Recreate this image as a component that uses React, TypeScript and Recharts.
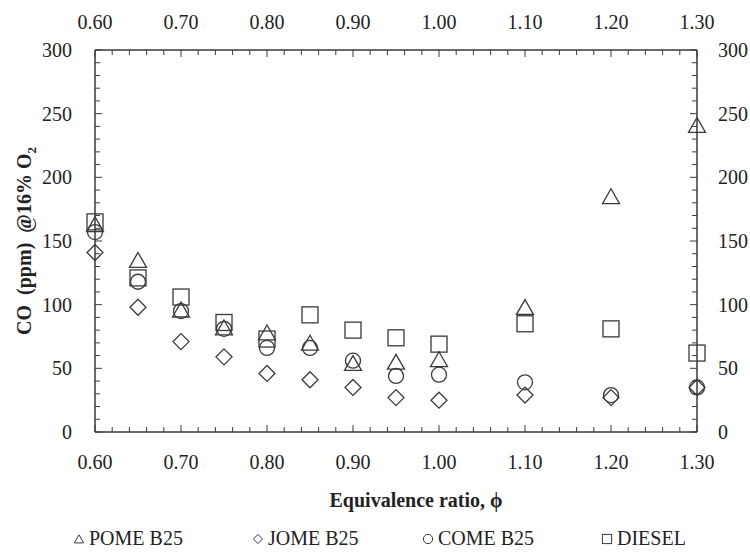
import { ScatterChart, Scatter, XAxis, YAxis, Label } from "recharts";

// equivalence ratio and CO readings (ppm @ 16% O2)
const phi = [0.6, 0.65, 0.7, 0.75, 0.8, 0.85, 0.9, 0.95, 1.0, 1.1, 1.2, 1.3];
const pomeB25 = [163, 135, 96, 82, 78, 70, 54, 55, 57, 98, 185, 241];
const jomeB25 = [141, 98, 71, 59, 46, 41, 35, 27, 25, 29, 27, 35];
const comeB25 = [157, 118, 95, 81, 66, 66, 56, 44, 45, 39, 29, 35];
const diesel = [165, 121, 106, 86, 73, 92, 80, 74, 69, 85, 81, 62];

const xTicks = [0.6, 0.7, 0.8, 0.9, 1.0, 1.1, 1.2, 1.3];
const yTicks = [0, 50, 100, 150, 200, 250, 300];

const xMinor = Array.from({ length: 36 }, (_, i) => Math.round((0.6 + i * 0.02) * 100) / 100);
const yMinor = Array.from({ length: 31 }, (_, i) => i * 10);

const toPoints = (vals: number[]) => phi.map((x, i) => ({ x, y: vals[i] }));

const FONT = "'Liberation Serif', 'Times New Roman', serif";
const INK = "#3a3a3a";
const TXT = "#222";

const isMajorX = (v: number) => xTicks.some((t) => Math.abs(t - v) < 1e-6);
const isMajorY = (v: number) => yTicks.includes(v);

const Tri = ({ cx, cy, s = 8.5, w = 1.3 }: any) => (
  <polygon points={`${cx},${cy - s * 0.9} ${cx - s},${cy + s * 0.85} ${cx + s},${cy + s * 0.85}`} fill="none" stroke={INK} strokeWidth={w} />
);
const Dia = ({ cx, cy, s = 8, w = 1.3 }: any) => (
  <polygon points={`${cx},${cy - s} ${cx + s},${cy} ${cx},${cy + s} ${cx - s},${cy}`} fill="none" stroke={INK} strokeWidth={w} />
);
const Circ = ({ cx, cy, s = 7.5, w = 1.3 }: any) => <circle cx={cx} cy={cy} r={s} fill="none" stroke={INK} strokeWidth={w} />;
const Sq = ({ cx, cy, s = 8, w = 1.3 }: any) => (
  <rect x={cx - s} y={cy - s} width={s * 2} height={s * 2} fill="none" stroke={INK} strokeWidth={w} />
);

const series = [
  { name: "POME B25", data: pomeB25, Shape: Tri },
  { name: "JOME B25", data: jomeB25, Shape: Dia },
  { name: "COME B25", data: comeB25, Shape: Circ },
  { name: "DIESEL", data: diesel, Shape: Sq },
];

const BottomTick = ({ x, y, payload }: any) => {
  const major = isMajorX(payload.value);
  return (
    <g>
      <line x1={x} x2={x} y1={y} y2={y - (major ? 7 : 5)} stroke={INK} strokeWidth={1} />
      {major && (
        <text x={x} y={y + 30} dy="0.35em" textAnchor="middle" fontSize={20} fontFamily={FONT} fill={TXT}>
          {payload.value.toFixed(2)}
        </text>
      )}
    </g>
  );
};

const TopTick = ({ x, y, payload }: any) => {
  const major = isMajorX(payload.value);
  return (
    <g>
      <line x1={x} x2={x} y1={y} y2={y + (major ? 7 : 5)} stroke={INK} strokeWidth={1} />
      {major && (
        <text x={x} y={y - 28} dy="0.35em" textAnchor="middle" fontSize={20} fontFamily={FONT} fill={TXT}>
          {payload.value.toFixed(2)}
        </text>
      )}
    </g>
  );
};

const LeftTick = ({ x, y, payload }: any) => {
  const major = isMajorY(payload.value);
  return (
    <g>
      <line x1={x} x2={x + (major ? 7 : 5)} y1={y} y2={y} stroke={INK} strokeWidth={1} />
      {major && (
        <text x={x - 23} y={y} dy="0.35em" textAnchor="end" fontSize={20} fontFamily={FONT} fill={TXT}>
          {payload.value}
        </text>
      )}
    </g>
  );
};

const RightTick = ({ x, y, payload }: any) => {
  const major = isMajorY(payload.value);
  return (
    <g>
      <line x1={x} x2={x - (major ? 7 : 5)} y1={y} y2={y} stroke={INK} strokeWidth={1} />
      {major && (
        <text x={x + 21} y={y} dy="0.35em" textAnchor="start" fontSize={20} fontFamily={FONT} fill={TXT}>
          {payload.value}
        </text>
      )}
    </g>
  );
};

const legendLeft = [73, 252, 422, 601];

export default function App() {
  const axisLine = { stroke: INK, strokeWidth: 1.5 };
  return (
    <div style={{ position: "absolute", left: 0, top: 0, width: 750, height: 552, background: "#fff" }}>
      <ScatterChart width={750} height={552} margin={{ top: 0, right: 0, bottom: 0, left: 0 }}>
        <XAxis
          xAxisId="b"
          dataKey="x"
          type="number"
          domain={[0.6, 1.3]}
          ticks={xMinor}
          interval={0}
          height={120}
          tickSize={0}
          tickMargin={0}
          tickLine={false}
          axisLine={axisLine}
          tick={<BottomTick />}
        >
          <Label
            content={() => (
              <text x={416} y={500} dy="0.35em" textAnchor="middle" fontSize={20} fontWeight="bold" fontFamily={FONT} fill={TXT}>
                Equivalence ratio, ϕ
              </text>
            )}
          />
        </XAxis>
        <XAxis
          xAxisId="t"
          orientation="top"
          dataKey="x"
          type="number"
          domain={[0.6, 1.3]}
          ticks={xMinor}
          interval={0}
          height={50}
          tickSize={0}
          tickMargin={0}
          tickLine={false}
          axisLine={axisLine}
          tick={<TopTick />}
          allowDataOverflow
        />
        <YAxis
          yAxisId="l"
          dataKey="y"
          type="number"
          domain={[0, 300]}
          ticks={yMinor}
          interval={0}
          width={95}
          tickSize={0}
          tickMargin={0}
          tickLine={false}
          axisLine={axisLine}
          tick={<LeftTick />}
        >
          <Label
            content={() => (
              <text
                transform="translate(24,241) rotate(-90)"
                x={0}
                y={0}
                dy="0.35em"
                textAnchor="middle"
                fontSize={20}
                fontWeight="bold"
                fontFamily={FONT}
                fill={TXT}
                style={{ whiteSpace: "pre" }}
              >
                CO  (ppm)  @16% O<tspan fontSize={13} dy={5}>2</tspan>
              </text>
            )}
          />
        </YAxis>
        <YAxis
          yAxisId="r"
          orientation="right"
          dataKey="y"
          type="number"
          domain={[0, 300]}
          ticks={yMinor}
          interval={0}
          width={53}
          tickSize={0}
          tickMargin={0}
          tickLine={false}
          axisLine={axisLine}
          tick={<RightTick />}
          allowDataOverflow
        />
        {series.map((s) => (
          <Scatter
            key={s.name}
            name={s.name}
            data={toPoints(s.data)}
            xAxisId="b"
            yAxisId="l"
            isAnimationActive={false}
            shape={(p: any) => <s.Shape cx={p.cx} cy={p.cy} />}
          />
        ))}
      </ScatterChart>
      {series.map((s, i) => (
        <div
          key={s.name}
          style={{
            position: "absolute",
            left: legendLeft[i],
            top: 526,
            fontFamily: FONT,
            fontSize: 20,
            color: TXT,
            whiteSpace: "nowrap",
            lineHeight: "24px",
            display: "flex",
            alignItems: "center",
          }}
        >
          <svg width={12} height={12} style={{ marginRight: 4, marginTop: 2 }}>
            <s.Shape cx={6} cy={6} s={4.6} w={1} />
          </svg>
          {s.name}
        </div>
      ))}
    </div>
  );
}
